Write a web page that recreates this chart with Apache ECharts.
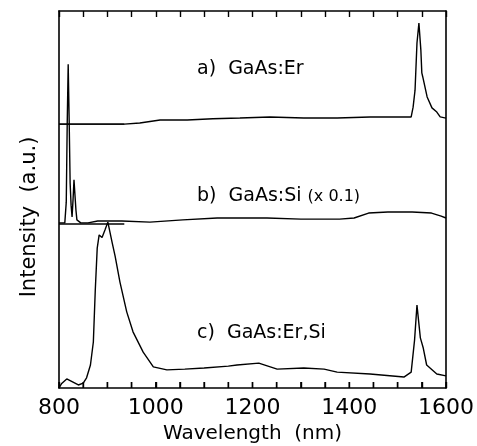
<!DOCTYPE html>
<html>
<head>
<meta charset="utf-8">
<script src="https://cdn.jsdelivr.net/npm/echarts@6/dist/echarts.min.js"></script>
<style>
html,body{margin:0;padding:0;background:#fff;}
#chart{width:477px;height:446px;}
</style>
</head>
<body>
<div id="chart"></div>
<script>
// Wavelength (nm) and intensity (a.u., traces offset vertically as in the figure)
var erWavelength = [800, 850, 900, 935, 967, 1009, 1065, 1118, 1174, 1236, 1306, 1375, 1443, 1513, 1528, 1532, 1536, 1540, 1544, 1548, 1550, 1552, 1561, 1571, 1581, 1588, 1600];
var erIntensity  = [70.0, 70.0, 70.0, 70.0, 70.3, 71.1, 71.1, 71.4, 71.6, 71.9, 71.6, 71.6, 71.9, 71.9, 71.9, 74.5, 79.0, 91.5, 96.8, 89.7, 83.6, 82.5, 77.2, 74.3, 73.2, 71.9, 71.6];

var siWavelength = [800, 812, 815, 817, 819, 821, 823, 825, 827, 829, 831, 833, 835, 837, 845, 860, 880, 930, 988, 1056, 1127, 1168, 1230, 1300, 1380, 1410, 1440, 1480, 1530, 1570, 1590, 1600];
var siIntensity  = [43.8, 43.8, 49.3, 70.3, 85.9, 71.1, 54.4, 48.5, 45.4, 49.9, 55.2, 51.2, 47.2, 44.6, 43.8, 43.8, 44.3, 44.3, 44.0, 44.6, 45.1, 45.1, 45.1, 44.8, 44.8, 45.1, 46.4, 46.7, 46.7, 46.4, 45.6, 45.1];

var erSiWavelength = [800, 805, 816, 828, 840, 850, 857, 865, 871, 875, 879, 883, 889, 895, 901, 910, 916, 926, 940, 953, 974, 995, 1023, 1060, 1100, 1150, 1168, 1213, 1251, 1306, 1348, 1375, 1443, 1513, 1528, 1535, 1540, 1547, 1553, 1560, 1581, 1600];
var erSiIntensity  = [0, 1.1, 2.4, 1.6, 0.8, 1.3, 2.7, 6.1, 12.2, 26.0, 37.1, 40.6, 39.9, 41.9, 44.0, 38.5, 35.0, 28.1, 20.2, 14.9, 9.5, 5.6, 4.8, 5.0, 5.3, 5.8, 6.1, 6.6, 5.0, 5.3, 5.0, 4.2, 3.7, 2.9, 4.2, 12.7, 22.0, 13.3, 10.6, 6.1, 3.7, 3.2];

// short zero lines drawn under traces a) and b)
var baselineWavelength = [800, 935];
var erBaseline = [70.0, 70.0];
var siBaseline = [43.5, 43.5];

// tick positions along the bottom frame (nm)
var tickWavelength = [800, 850, 900, 950, 1000, 1050, 1100, 1150, 1200, 1250, 1300, 1350, 1400, 1450, 1500, 1550, 1600];

var labels = ['a)  GaAs:Er', 'b)  GaAs:Si ', 'c)  GaAs:Er,Si'];
var siScale = '(x 0.1)';

function zip(xs, ys){ return xs.map(function(x,i){ return [x, ys[i]]; }); }

var FONT = 'DejaVu Sans';
var chart = echarts.init(document.getElementById('chart'), null, {renderer:'canvas'});
var lineStyle = {color:'#000', width:1.4};
function ser(data){
  return {type:'line', data:data, symbol:'none', smooth:false, lineStyle:lineStyle, silent:true, animation:false, xAxisIndex:0, yAxisIndex:0};
}
function ticks(){ return {show:true, inside:true, length:6, lineStyle:{color:'#000', width:1.4}}; }
function minor(){ return {show:true, splitNumber:4, length:6, lineStyle:{color:'#000', width:1.4}}; }
var option = {
  backgroundColor:'#fff',
  animation:false,
  grid:{left:59, right:31, top:11, bottom:58, containLabel:false, outerBoundsMode:'none'},
  xAxis:[{
    type:'value', position:'bottom', min:800, max:1600, interval:200,
    axisLine:{show:true, lineStyle:{color:'#000', width:1.6}},
    axisTick:ticks(), minorTick:minor(),
    axisLabel:{show:true, margin:9, color:'#000', fontFamily:FONT, fontSize:22, showMinLabel:true, showMaxLabel:true,
      formatter:function(v){ return String(v); }},
    splitLine:{show:false}, minorSplitLine:{show:false},
    name:'Wavelength  (nm)', nameLocation:'middle', nameGap:36,
    nameTextStyle:{color:'#000', fontFamily:FONT, fontSize:20}
  },{
    type:'value', position:'top', min:800, max:1600, interval:200,
    axisLine:{show:true, onZeroAxisIndex:1, lineStyle:{color:'#000', width:1.6}},
    axisTick:ticks(), minorTick:minor(),
    axisLabel:{show:false}, splitLine:{show:false}, minorSplitLine:{show:false}
  }],
  yAxis:[{
    type:'value', position:'left', min:0, max:100,
    axisLine:{show:true, lineStyle:{color:'#000', width:1.6}},
    axisTick:{show:false}, axisLabel:{show:false}, splitLine:{show:false}
  },{
    type:'value', position:'right', min:-100, max:0,
    axisLine:{show:true, lineStyle:{color:'#000', width:1.6}},
    axisTick:{show:false}, axisLabel:{show:false}, splitLine:{show:false}
  }],
  series:[
    ser(zip(baselineWavelength, erBaseline)),
    ser(zip(baselineWavelength, siBaseline)),
    ser(zip(erWavelength, erIntensity)),
    ser(zip(siWavelength, siIntensity)),
    ser(zip(erSiWavelength, erSiIntensity)),
    {
      type:'custom', coordinateSystem:'cartesian2d', xAxisIndex:0, yAxisIndex:0, silent:true, clip:false,
      data: tickWavelength.map(function(w){ return [w, 0]; }),
      renderItem:function(params, api){
        var p = api.coord([api.value(0), 0]);
        return {type:'line', shape:{x1:p[0], y1:p[1], x2:p[0], y2:p[1]-6},
          style:{stroke:'#000', lineWidth:1.4}};
      }
    }
  ],
  graphic:[
    {type:'text', left:197, top:60, style:{text:labels[0], fill:'#000', font:'19px "DejaVu Sans"'}},
    {type:'text', left:197, top:187, style:{text:'{m|'+labels[1]+'}{s|'+siScale+'}', fill:'#000',
      rich:{m:{fontFamily:FONT, fontSize:19, fill:'#000'}, s:{fontFamily:FONT, fontSize:16, fill:'#000'}}}},
    {type:'text', left:197, top:324, style:{text:labels[2], fill:'#000', font:'19px "DejaVu Sans"'}},
    {type:'text', x:30, y:217, rotation:Math.PI/2, style:{text:'Intensity  (a.u.)', fill:'#000', font:'21px "DejaVu Sans"', textAlign:'center', textVerticalAlign:'middle'}}
  ]
};
chart.setOption(option);
</script>
</body>
</html>
